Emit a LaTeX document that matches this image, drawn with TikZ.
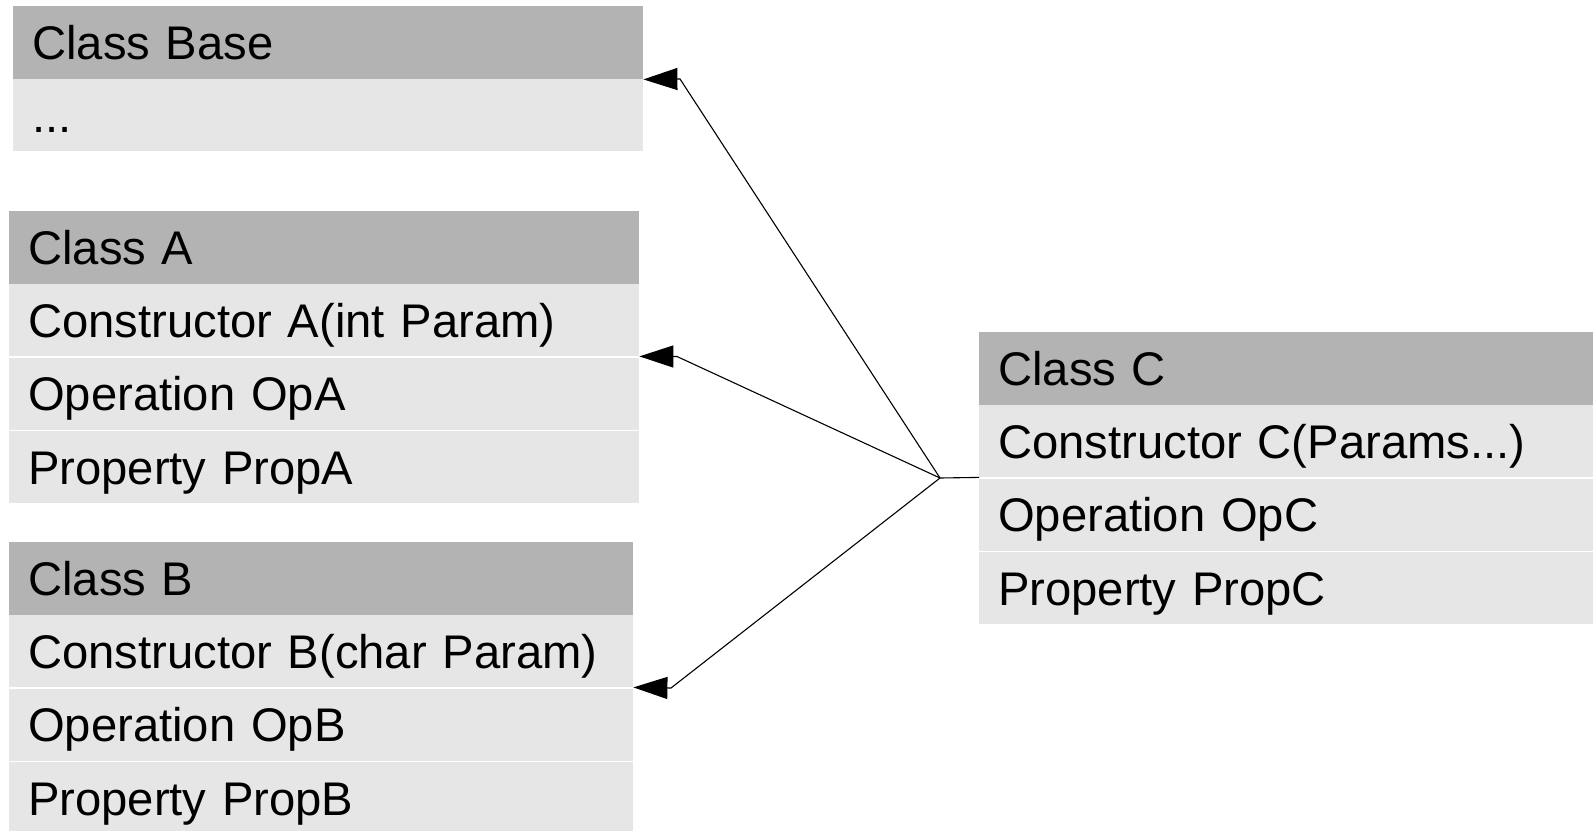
\documentclass[tikz,border=0pt]{standalone}
\usepackage{fontspec}
\setmainfont{Liberation Sans}
\usetikzlibrary{arrows.meta}

\begin{document}
\begin{tikzpicture}[x=1pt,y=-1pt,
  row/.style={rectangle, anchor=north west, inner xsep=19pt, inner ysep=0pt,
    text height=34pt, text depth=0pt, text width=#1-38pt, align=left,
    font=\fontsize{47.2}{57}\selectfont},
  hdr/.style={row=#1, fill=hdrgray, minimum height=73pt},
  body/.style={row=#1, fill=bodygray, minimum height=72pt},
  conn/.style={draw=black, line width=1.1pt, -{Triangle[length=34pt,width=22pt]}},
  link/.style={draw=black, line width=1.1pt}
]
\definecolor{hdrgray}{HTML}{B3B3B3}
\definecolor{bodygray}{HTML}{E6E6E6}
\useasboundingbox (0,0) rectangle (1593,830);

% Class Base
\node[hdr=630]  (base-h) at (13,6)   {Class Base};
\node[body=630] (base-1) at (13,79)  {...};

% Class A
\node[hdr=630]  (a-h) at (9,211) {Class A};
\node[body=630] (a-1) at (9,284) {Constructor A(int Param)};
\node[body=630] (a-2) at (9,357.5) {Operation OpA};
\node[body=630] (a-3) at (9,431) {Property PropA};

% Class B
\node[hdr=624]  (b-h) at (9,542) {Class B};
\node[body=624] (b-1) at (9,615) {Constructor B(char Param)};
\node[body=624] (b-2) at (9,688.5) {Operation OpB};
\node[body=624] (b-3) at (9,762) {Property PropB};

% Class C
\node[hdr=640]  (c-h) at (979,332) {Class C};
\node[body=640] (c-1) at (979,405) {Constructor C(Params...)};
\node[body=640] (c-2) at (979,478.5) {Operation OpC};
\node[body=640] (c-3) at (979,552) {Property PropC};

% generalisation connectors from Class C to its bases
\coordinate (cj) at (940,478);
\coordinate (kb) at (680,79);
\coordinate (ka) at (677,356.5);
\coordinate (kbb) at (671,688);

\draw[link] (c-1.south west) -- (cj);
\draw[conn] (cj) -- (kb) -- (base-h.south east);
\draw[conn] (cj) -- (ka) -- (a-1.south east);
\draw[conn] (cj) -- (kbb) -- (b-1.south east);
\end{tikzpicture}
\end{document}
